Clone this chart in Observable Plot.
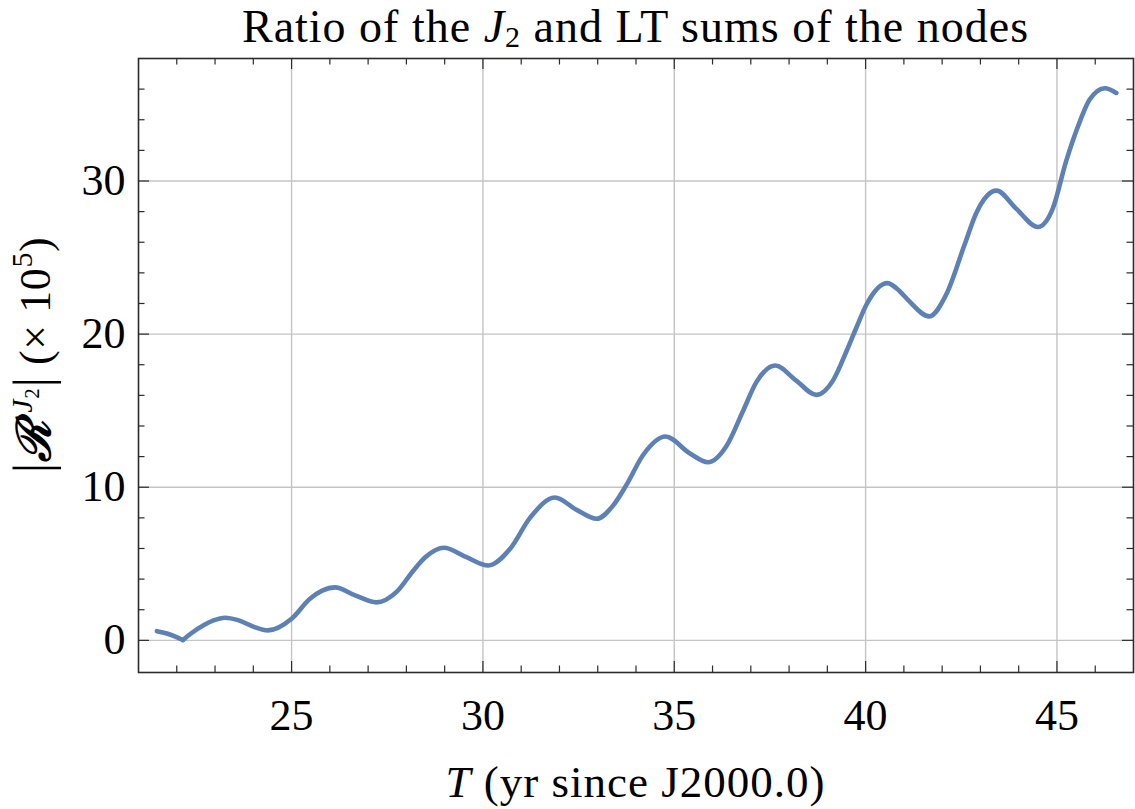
<!DOCTYPE html>
<html>
<head>
<meta charset="utf-8">
<script src="https://cdn.jsdelivr.net/npm/d3@7"></script>
<script src="https://cdn.jsdelivr.net/npm/@observablehq/plot@0.6"></script>
<style>
  html, body { margin: 0; padding: 0; background: #fff; }
  #chart svg { display: block; }
</style>
</head>
<body>
<div id="chart"></div>
<script>
// ---- data ----
// branch before the |.| kink
const T1 = [21.48, 21.74, 21.95, 22.16];
const R1 = [0.60, 0.45, 0.26, 0.02];
// main branch after the kink
const T2 = [22.16, 22.39, 22.7, 22.96, 23.26, 23.6, 24.0, 24.38, 25.0, 25.48, 25.8, 26.14,
  26.66, 27.22, 27.75, 28.18, 28.5, 28.98, 29.57, 30.14, 30.71, 31.23, 31.88, 32.45,
  32.97, 33.4, 33.75, 34.19, 34.77, 35.4, 35.88, 36.36, 36.8, 37.15, 37.64, 38.18,
  38.71, 39.15, 39.5, 39.76, 40.02, 40.57, 40.89, 41.12, 41.66, 42.11, 42.58, 42.89,
  43.42, 43.94, 44.5, 44.89, 45.24, 45.6, 45.85, 46.25, 46.55];
const R2 = [0.02, 0.48, 0.98, 1.30, 1.48, 1.32, 0.90, 0.65, 1.41, 2.72, 3.25, 3.46,
  2.94, 2.48, 3.18, 4.55, 5.44, 6.05, 5.43, 4.89, 5.98, 8.00, 9.33, 8.52,
  7.94, 8.80, 10.15, 12.12, 13.31, 12.22, 11.63, 12.68, 15.00, 16.88, 17.95, 16.98,
  16.03, 16.98, 18.88, 20.43, 21.92, 23.33, 22.80, 22.20, 21.16, 22.60, 25.80, 27.90,
  29.37, 28.18, 27.00, 28.20, 31.30, 33.90, 35.30, 36.06, 35.75];

const xMajor = [25, 30, 35, 40, 45];
const xMinor = [22, 23, 24, 26, 27, 28, 29, 31, 32, 33, 34, 36, 37, 38, 39, 41, 42, 43, 44, 46];
const yMajor = [0, 10, 20, 30];
const yMinor = [2, 4, 6, 8, 12, 14, 16, 18, 22, 24, 26, 28, 32, 34, 36];
const xDomain = [21, 47];
const yDomain = [-2.1, 38];

const series = [
  ...T1.map((t, i) => ({t, r: R1[i], branch: "a"})),
  ...T2.map((t, i) => ({t, r: R2[i], branch: "b"}))
];

// ---- layout ----
const W = 1135, H = 809;
const mL = 138, mR = 2, mT = 58, mB = 137;
const pw = W - mL - mR, ph = H - mT - mB;
const majorLen = 11, minorLen = 6.5;
const ink = "#2b2b2b";
const font = "'Liberation Serif', 'Times New Roman', serif";

const chart = Plot.plot({
  width: W, height: H,
  marginLeft: mL, marginRight: mR, marginTop: mT, marginBottom: mB,
  style: {fontFamily: font, background: "#fff"},
  x: {domain: xDomain},
  y: {domain: yDomain},
  marks: [
    Plot.ruleX(xMajor, {x: d => d, stroke: "#c4c4c4", strokeWidth: 1.4}),
    Plot.ruleY(yMajor, {y: d => d, stroke: "#c4c4c4", strokeWidth: 1.4}),
    Plot.line(series, {x: "t", y: "r", z: "branch", stroke: "#5E81B5", strokeWidth: 4.6, curve: "monotone-x", strokeLinecap: "round", strokeLinejoin: "round"}),
    // inward ticks on all four sides
    Plot.ruleX(xMajor, {x: d => d, insetTop: ph - majorLen, stroke: ink, strokeWidth: 1.2}),
    Plot.ruleX(xMinor, {x: d => d, insetTop: ph - minorLen, stroke: ink, strokeWidth: 1.2}),
    Plot.ruleX(xMajor, {x: d => d, insetBottom: ph - majorLen, stroke: ink, strokeWidth: 1.2}),
    Plot.ruleX(xMinor, {x: d => d, insetBottom: ph - minorLen, stroke: ink, strokeWidth: 1.2}),
    Plot.ruleY(yMajor, {y: d => d, insetRight: pw - majorLen, stroke: ink, strokeWidth: 1.2}),
    Plot.ruleY(yMinor, {y: d => d, insetRight: pw - minorLen, stroke: ink, strokeWidth: 1.2}),
    Plot.ruleY(yMajor, {y: d => d, insetLeft: pw - majorLen, stroke: ink, strokeWidth: 1.2}),
    Plot.ruleY(yMinor, {y: d => d, insetLeft: pw - minorLen, stroke: ink, strokeWidth: 1.2}),
    Plot.frame({stroke: ink, strokeWidth: 1.6}),
    Plot.axisX(xMajor, {anchor: "bottom", tickSize: 0, tickPadding: 26, fontSize: 44, fill: "#000", label: null}),
    Plot.axisY(yMajor, {anchor: "left", tickSize: 0, tickPadding: 13, fontSize: 44, fill: "#000", label: null})
  ]
});
document.getElementById("chart").appendChild(chart);

// ---- title and axis labels (rich text) ----
const sx = chart.scale("x"), sy = chart.scale("y");
const cx = (sx.range[0] + sx.range[1]) / 2;
const cy = (sy.range[0] + sy.range[1]) / 2;
const svg = d3.select(chart);

const title = svg.append("text")
  .attr("x", cx).attr("y", 42)
  .attr("text-anchor", "middle")
  .attr("letter-spacing", 1.0)
  .attr("font-family", font).attr("font-size", 46).attr("fill", "#000");
title.append("tspan").text("Ratio of the ");
title.append("tspan").attr("font-style", "italic").text("J");
title.append("tspan").attr("font-size", 30).attr("dy", 5).text("2");
title.append("tspan").attr("dy", -5).text(" and LT sums of the nodes");

const xl = svg.append("text")
  .attr("x", cx).attr("y", 797)
  .attr("text-anchor", "middle")
  .attr("letter-spacing", 1.0)
  .attr("font-family", font).attr("font-size", 45).attr("fill", "#000");
xl.append("tspan").attr("font-style", "italic").text("T");
xl.append("tspan").text(" (yr since J2000.0)");

const yl = svg.append("text")
  .attr("transform", `translate(50,${cy - 10}) rotate(-90)`)
  .attr("text-anchor", "middle")
  .attr("letter-spacing", 0.6)
  .attr("font-family", font).attr("font-size", 44).attr("fill", "#000");
yl.append("tspan").attr("font-size", 52).text("|");
yl.append("tspan").attr("font-family", "'DejaVu Serif', serif").attr("font-weight", "bold").attr("font-style", "italic").attr("font-size", 47).text("ℛ");
yl.append("tspan").attr("font-style", "italic").attr("font-size", 30).attr("dy", -18).text(" J");
yl.append("tspan").attr("font-size", 21).attr("dy", 7).text("2");
yl.append("tspan").attr("font-size", 52).attr("dy", 11).text("|");
yl.append("tspan").text(" (× 10");
yl.append("tspan").attr("font-size", 30).attr("dy", -18).text("5");
yl.append("tspan").attr("dy", 18).text(")");
</script>
</body>
</html>
